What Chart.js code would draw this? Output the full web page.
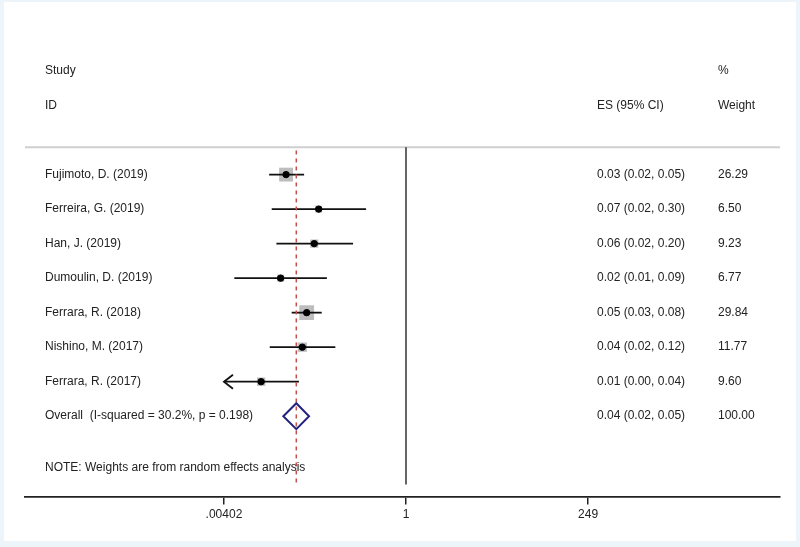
<!DOCTYPE html>
<html lang="en">
<head>
    <meta charset="UTF-8">
    <title>Forest plot</title>
    <script src="https://cdn.jsdelivr.net/npm/chart.js@4.4.1/dist/chart.umd.min.js"></script>
    <style>
        html, body { margin: 0; padding: 0; background: #ffffff; }
        canvas { display: block; }
    </style>
</head>
<body>
    <canvas id="chart" width="800" height="547"></canvas>

    <script>
        // data
        const studies = ['Fujimoto, D. (2019)', 'Ferreira, G. (2019)', 'Han, J. (2019)', 'Dumoulin, D. (2019)',
                         'Ferrara, R. (2018)', 'Nishino, M. (2017)', 'Ferrara, R. (2017)'];
        const es = [0.0264, 0.071, 0.062, 0.0224, 0.0493, 0.0432, 0.0124];
        const lo = [0.0158, 0.0171, 0.0197, 0.0055, 0.0313, 0.0161, 0.003];
        const hi = [0.0456, 0.298, 0.201, 0.091, 0.0778, 0.1175, 0.039];
        const weights = [26.29, 6.50, 9.23, 6.77, 29.84, 11.77, 9.60];
        const esLabels = ['0.03 (0.02, 0.05)', '0.07 (0.02, 0.30)', '0.06 (0.02, 0.20)', '0.02 (0.01, 0.09)',
                          '0.05 (0.03, 0.08)', '0.04 (0.02, 0.12)', '0.01 (0.00, 0.04)'];
        const weightLabels = ['26.29', '6.50', '9.23', '6.77', '29.84', '11.77', '9.60'];

        const overallLabel = 'Overall  (I-squared = 30.2%, p = 0.198)';
        const overall = [0.036, 0.0243, 0.053]; // es, lo, hi
        const overallEsLabel = '0.04 (0.02, 0.05)';
        const overallWeight = '100.00';

        const tickValues = [0.00402, 1, 249];
        const tickLabels = ['.00402', '1', '249'];

        const FONT = '12px "Liberation Sans", Arial, sans-serif';
        const TEXT = '#222222';

        const forestPlugin = {
            id: 'forest',
            beforeDraw(chart) {
                const ctx = chart.ctx;
                ctx.save();
                ctx.fillStyle = '#edf5fa';
                ctx.fillRect(0, 0, chart.width, chart.height);
                ctx.fillStyle = '#ffffff';
                ctx.fillRect(4, 2, 792, 539);
                ctx.restore();
            },
            beforeDatasetsDraw(chart) {
                const ctx = chart.ctx;
                const xs = chart.scales.x, ys = chart.scales.y;
                const xMin = xs.getPixelForValue(tickValues[0]);
                const xMax = xs.getPixelForValue(tickValues[2]);
                ctx.save();

                // header rule
                ctx.strokeStyle = '#cfcfcf';
                ctx.lineWidth = 2;
                ctx.beginPath();
                ctx.moveTo(xs.left, ys.getPixelForValue(-0.79));
                ctx.lineTo(xs.right, ys.getPixelForValue(-0.79));
                ctx.stroke();

                // line of no effect
                ctx.strokeStyle = '#333333';
                ctx.lineWidth = 1.5;
                ctx.beginPath();
                ctx.moveTo(xs.getPixelForValue(1), ys.getPixelForValue(-0.79));
                ctx.lineTo(xs.getPixelForValue(1), ys.getPixelForValue(8.98));
                ctx.stroke();

                // weight boxes
                ctx.fillStyle = '#bdbdbd';
                es.forEach((v, i) => {
                    const s = 2.7 * Math.sqrt(weights[i]);
                    ctx.fillRect(xs.getPixelForValue(v) - s / 2, ys.getPixelForValue(i) - s / 2, s, s);
                });

                // confidence intervals
                ctx.strokeStyle = '#111111';
                ctx.lineWidth = 1.8;
                es.forEach((v, i) => {
                    const y = ys.getPixelForValue(i);
                    const a = Math.max(xs.getPixelForValue(lo[i]), xMin);
                    const b = Math.min(xs.getPixelForValue(hi[i]), xMax);
                    ctx.beginPath();
                    ctx.moveTo(a, y);
                    ctx.lineTo(b, y);
                    ctx.stroke();
                    if (lo[i] < tickValues[0]) {
                        ctx.beginPath();
                        ctx.moveTo(a + 9, y - 7);
                        ctx.lineTo(a, y);
                        ctx.lineTo(a + 9, y + 7);
                        ctx.stroke();
                    }
                });

                // overall estimate line
                ctx.strokeStyle = '#c0504d';
                ctx.lineWidth = 1.5;
                ctx.setLineDash([4, 4]);
                ctx.beginPath();
                ctx.moveTo(xs.getPixelForValue(overall[0]), ys.getPixelForValue(-0.7));
                ctx.lineTo(xs.getPixelForValue(overall[0]), ys.getPixelForValue(8.98));
                ctx.stroke();
                ctx.setLineDash([]);

                // overall diamond
                const yo = ys.getPixelForValue(7);
                ctx.strokeStyle = '#23237f';
                ctx.lineWidth = 2;
                ctx.beginPath();
                ctx.moveTo(xs.getPixelForValue(overall[1]), yo);
                ctx.lineTo(xs.getPixelForValue(overall[0]), yo - 13);
                ctx.lineTo(xs.getPixelForValue(overall[2]), yo);
                ctx.lineTo(xs.getPixelForValue(overall[0]), yo + 13);
                ctx.closePath();
                ctx.stroke();
                ctx.restore();
            },
            afterDraw(chart) {
                const ctx = chart.ctx;
                const ys = chart.scales.y;
                ctx.save();
                ctx.font = FONT;
                ctx.fillStyle = TEXT;
                ctx.textBaseline = 'middle';
                ctx.textAlign = 'left';
                const put = (t, x, r) => ctx.fillText(t, x, ys.getPixelForValue(r));

                put('Study', 45, -3);
                put('ID', 45, -2);
                put('ES (95% CI)', 597, -2);
                put('%', 718, -3);
                put('Weight', 718, -2);

                studies.forEach((s, i) => {
                    put(s, 45, i);
                    put(esLabels[i], 597, i);
                    put(weightLabels[i], 718, i);
                });
                put(overallLabel, 45, 7);
                put(overallEsLabel, 597, 7);
                put(overallWeight, 718, 7);
                put('NOTE: Weights are from random effects analysis', 45, 8.48);
                ctx.restore();
            }
        };

        const ctx = document.getElementById('chart').getContext('2d');
        new Chart(ctx, {
            type: 'scatter',
            data: {
                datasets: [{
                    data: es.map((v, i) => ({ x: v, y: i })),
                    backgroundColor: '#000000',
                    borderColor: '#000000',
                    pointRadius: 3.2,
                    pointHoverRadius: 3.2
                }]
            },
            options: {
                responsive: false,
                animation: false,
                layout: { padding: { left: 25, right: 20, top: 40, bottom: 22 } },
                plugins: { legend: { display: false }, tooltip: { enabled: false } },
                scales: {
                    x: {
                        type: 'logarithmic',
                        min: Math.pow(10, -5.014),
                        max: Math.pow(10, 4.922),
                        afterBuildTicks: (scale) => {
                            scale.ticks = tickValues.map(v => ({ value: v }));
                        },
                        ticks: {
                            autoSkip: false,
                            maxRotation: 0,
                            padding: 3,
                            color: TEXT,
                            font: { family: '"Liberation Sans", Arial, sans-serif', size: 12 },
                            callback: (v) => {
                                const k = tickValues.indexOf(v);
                                return k >= 0 ? tickLabels[k] : '';
                            }
                        },
                        grid: { drawOnChartArea: false, drawTicks: true, tickLength: 8, color: '#222222', lineWidth: 1.5 },
                        border: { display: true, color: '#222222', width: 1.8 }
                    },
                    y: {
                        display: false,
                        reverse: true,
                        min: -3.9,
                        max: 9.33
                    }
                }
            },
            plugins: [forestPlugin]
        });
    </script>
</body>
</html>
